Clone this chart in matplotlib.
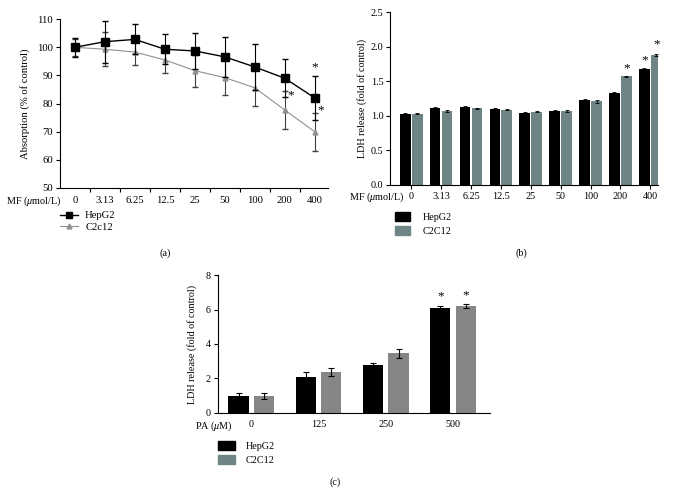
import numpy as np
import matplotlib.pyplot as plt
from matplotlib.patches import Patch
from matplotlib.lines import Line2D

plt.rcParams['font.family'] = ['Liberation Serif', 'DejaVu Serif']
plt.rcParams['font.size'] = 7.3
plt.rcParams['mathtext.fontset'] = 'custom'
plt.rcParams['mathtext.it'] = 'Liberation Serif:italic'

# (a) absorption vs MF concentration
mf_labels = ['0', '3.13', '6.25', '12.5', '25', '50', '100', '200', '400']
hep_abs = [100, 102, 102.8, 99.3, 98.7, 96.6, 93, 89, 82]
hep_abs_err = [3.3, 7.5, 5.3, 5.3, 6.3, 7.2, 8, 6.8, 7.8]
c2c_abs = [100, 99.3, 98.3, 95.5, 91.7, 89.2, 85.6, 77.7, 70]
c2c_abs_err = [3, 6, 4.7, 4.7, 5.7, 6.2, 6.3, 6.7, 6.7]

# (b) LDH release vs MF concentration
hep_ldh = [1.03, 1.12, 1.13, 1.10, 1.04, 1.07, 1.23, 1.33, 1.68]
hep_ldh_err = [0.01, 0.01, 0.01, 0.01, 0.01, 0.01, 0.01, 0.02, 0.01]
c2c_ldh = [1.03, 1.07, 1.11, 1.09, 1.06, 1.07, 1.21, 1.57, 1.88]
c2c_ldh_err = [0.01, 0.01, 0.01, 0.01, 0.01, 0.01, 0.02, 0.01, 0.02]

# (c) LDH release vs PA concentration
pa_labels = ['0', '125', '250', '500']
hep_pa = [0.98, 2.1, 2.8, 6.1]
hep_pa_err = [0.15, 0.25, 0.1, 0.1]
c2c_pa = [0.97, 2.37, 3.45, 6.2]
c2c_pa_err = [0.17, 0.25, 0.25, 0.12]

TEAL = '#6f8585'
GRAY = '#868686'
W, H = 674, 504


def fx(px):
    return px / W


def fy(py):
    return 1 - py / H


def style_axes(ax, size=7.3):
    ax.spines['top'].set_visible(False)
    ax.spines['right'].set_visible(False)
    ax.spines['left'].set_linewidth(0.8)
    ax.spines['bottom'].set_linewidth(0.8)
    ax.tick_params(direction='out', length=3, width=0.8, labelsize=size, pad=2)


fig = plt.figure(figsize=(6.74, 5.04), dpi=100)

# ---- panel (a)
ax1 = fig.add_axes([0.089, 0.627, 0.398, 0.335])
x = np.arange(len(mf_labels))
ax1.errorbar(x, hep_abs, yerr=hep_abs_err, color='black', marker='s', markersize=6,
             lw=1.0, capsize=2.5, elinewidth=0.8, zorder=3)
ax1.errorbar(x, c2c_abs, yerr=c2c_abs_err, color='#909090', marker='^', markersize=3.5,
             lw=0.8, capsize=2.5, elinewidth=0.8, ecolor='#404040', zorder=2)
ax1.set_ylim(50, 110)
ax1.set_yticks(range(50, 111, 10))
ax1.set_xlim(-0.5, 8.45)
ax1.set_xticks(np.arange(0.5, 8.5, 1))
ax1.set_xticks(x, minor=True)
ax1.set_xticklabels([])
ax1.set_xticklabels(mf_labels, minor=True)
style_axes(ax1, 7.7)
ax1.tick_params(axis='x', which='minor', length=0, labelsize=7.7, pad=6)
ax1.set_ylabel('Absorption (% of control)', fontsize=7.7, labelpad=5)
ax1.text(8, 93, '*', ha='center', va='center', fontsize=9.5)
ax1.text(7.2, 83, '*', ha='center', va='center', fontsize=9.5)
ax1.text(8.2, 77.5, '*', ha='center', va='center', fontsize=9.5)
fig.text(fx(6), fy(201), r'MF ($\mathit{\mu}$mol/L)', ha='left', va='center', fontsize=7.3)
fig.legend(handles=[Line2D([], [], color='black', marker='s', markersize=5, lw=1.0),
                    Line2D([], [], color='#909090', marker='^', markersize=3.5, lw=0.8)],
           labels=['HepG2', 'C2c12'], loc='upper left', bbox_to_anchor=(fx(60), fy(211)),
           frameon=False, fontsize=7.7, handlelength=1.7, labelspacing=0.2,
           handletextpad=0.65, borderaxespad=0, borderpad=0)
fig.text(fx(165), fy(253), '(a)', ha='center', va='center', fontsize=7.3)

# ---- panel (b)
ax2 = fig.add_axes([0.579, 0.633, 0.397, 0.343])
w = 0.36
ax2.bar(x - 0.2, hep_ldh, width=w, color='black', yerr=hep_ldh_err, capsize=1.5,
        error_kw=dict(elinewidth=0.6, capthick=0.6))
ax2.bar(x + 0.2, c2c_ldh, width=w, color=TEAL, yerr=c2c_ldh_err, capsize=1.5,
        error_kw=dict(elinewidth=0.6, capthick=0.6))
ax2.set_ylim(0, 2.5)
ax2.set_yticks(np.arange(0, 2.51, 0.5))
ax2.set_yticklabels(['0.0', '0.5', '1.0', '1.5', '2.0', '2.5'])
ax2.set_xlim(-0.7, 8.25)
ax2.set_xticks(x)
ax2.set_xticklabels(mf_labels)
style_axes(ax2)
ax2.set_ylabel('LDH release (fold of control)', fontsize=7.3, labelpad=3)
ax2.text(7.2, 1.69, '*', ha='center', va='center', fontsize=9.5)
ax2.text(7.8, 1.80, '*', ha='center', va='center', fontsize=9.5)
ax2.text(8.2, 2.04, '*', ha='center', va='center', fontsize=9.5)
fig.text(fx(404), fy(197), r'MF ($\mathit{\mu}$mol/L)', ha='right', va='center', fontsize=7.3)
fig.legend(handles=[Patch(color='black'), Patch(color=TEAL)], labels=['HepG2', 'C2C12'],
           loc='upper left', bbox_to_anchor=(fx(395), fy(212)), frameon=False, fontsize=7.3,
           handlelength=1.5, handleheight=1.0, labelspacing=0.4, handletextpad=1.2,
           borderaxespad=0, borderpad=0)
fig.text(fx(521), fy(253), '(b)', ha='center', va='center', fontsize=7.3)

# ---- panel (c)
ax3 = fig.add_axes([0.323, 0.181, 0.404, 0.273])
xc = np.arange(len(pa_labels))
wc = 0.3
ax3.bar(xc - 0.19, hep_pa, width=wc, color='black', yerr=hep_pa_err, capsize=2.5,
        error_kw=dict(elinewidth=0.8, capthick=0.8))
ax3.bar(xc + 0.19, c2c_pa, width=wc, color=GRAY, yerr=c2c_pa_err, capsize=2.5,
        error_kw=dict(elinewidth=0.8, capthick=0.8))
ax3.set_ylim(0, 8)
ax3.set_yticks(range(0, 9, 2))
ax3.set_xlim(-0.5, 3.55)
ax3.set_xticks(xc)
ax3.set_xticklabels(pa_labels)
style_axes(ax3)
ax3.tick_params(axis='x', length=0, pad=5)
ax3.set_ylabel('LDH release (fold of control)', fontsize=7.3, labelpad=6)
ax3.text(2.81, 6.75, '*', ha='center', va='center', fontsize=9.5)
ax3.text(3.19, 6.85, '*', ha='center', va='center', fontsize=9.5)
fig.text(fx(233), fy(426), r'PA ($\mathit{\mu}$M)', ha='right', va='center', fontsize=7.3)
fig.legend(handles=[Patch(color='black'), Patch(color=TEAL)], labels=['HepG2', 'C2C12'],
           loc='upper left', bbox_to_anchor=(fx(218), fy(441)), frameon=False, fontsize=7.3,
           handlelength=1.7, handleheight=1.0, labelspacing=0.4, handletextpad=1.0,
           borderaxespad=0, borderpad=0)
fig.text(fx(335), fy(482), '(c)', ha='center', va='center', fontsize=7.3)

fig.savefig('out.png', dpi=100)
